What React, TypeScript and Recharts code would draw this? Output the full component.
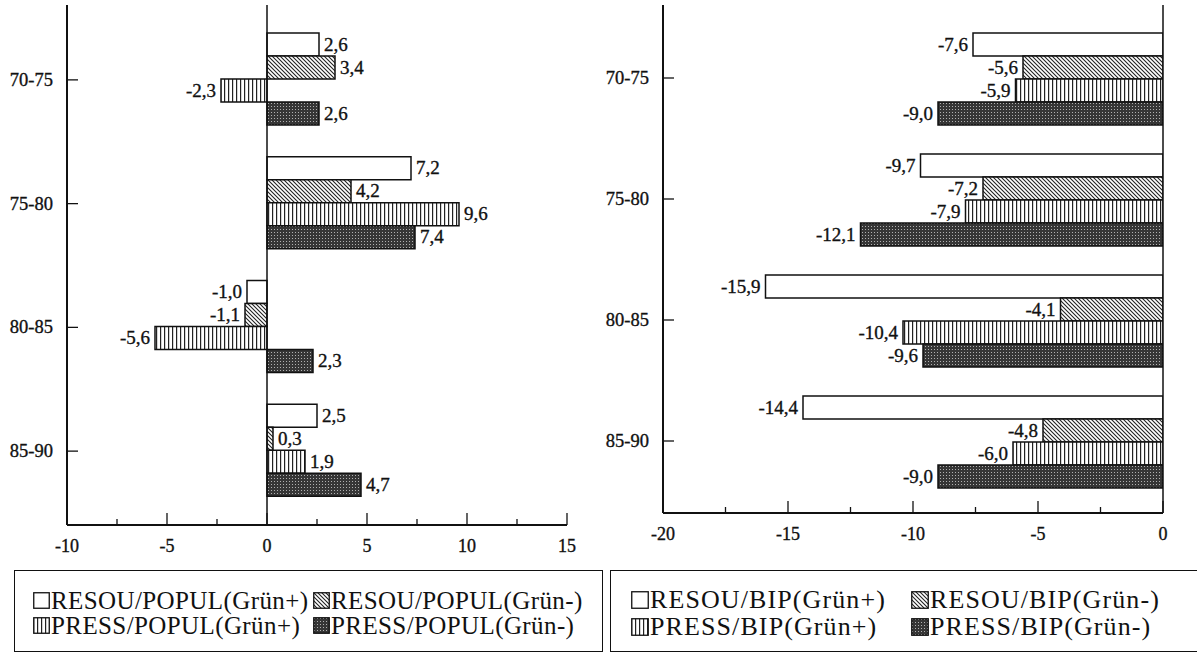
import React from "react";
import { BarChart, Bar, XAxis, YAxis, ReferenceLine, LabelList } from "recharts";

// periods on the category axis
const periods = ["70-75", "75-80", "80-85", "85-90"];

// left panel: change per population
const resouPopulPlus = [2.6, 7.2, -1.0, 2.5];
const resouPopulMinus = [3.4, 4.2, -1.1, 0.3];
const pressPopulPlus = [-2.3, 9.6, -5.6, 1.9];
const pressPopulMinus = [2.6, 7.4, 2.3, 4.7];

// right panel: change per BIP
const resouBipPlus = [-7.6, -9.7, -15.9, -14.4];
const resouBipMinus = [-5.6, -7.2, -4.1, -4.8];
const pressBipPlus = [-5.9, -7.9, -10.4, -6.0];
const pressBipMinus = [-9.0, -12.1, -9.6, -9.0];

const populTicks = [-10, -7.5, -5, -2.5, 0, 2.5, 5, 7.5, 10, 12.5, 15];
const bipTicks = [-20, -17.5, -15, -12.5, -10, -7.5, -5, -2.5, 0];

const populNames = ["RESOU/POPUL(Grün+)", "RESOU/POPUL(Grün-)", "PRESS/POPUL(Grün+)", "PRESS/POPUL(Grün-)"];
const bipNames = ["RESOU/BIP(Grün+)", "RESOU/BIP(Grün-)", "PRESS/BIP(Grün+)", "PRESS/BIP(Grün-)"];

const fills = ["url(#pWhite)", "url(#pHatch)", "url(#pStripe)", "url(#pDark)"];
const keys = ["a", "b", "c", "d"];

const FONT = "'Liberation Serif', 'Times New Roman', serif";
const INK = "#111";

const populData = periods.map((p, i) => ({
  period: p,
  a: resouPopulPlus[i],
  b: resouPopulMinus[i],
  c: pressPopulPlus[i],
  d: pressPopulMinus[i],
}));

const bipData = periods.map((p, i) => ({
  period: p,
  a: resouBipPlus[i],
  b: resouBipMinus[i],
  c: pressBipPlus[i],
  d: pressBipMinus[i],
}));

const fmt = (v: number) => v.toFixed(1).replace(".", ",");

// scanned print looks a bit heavier than plain text
const textStyle = { stroke: INK, strokeWidth: 0.35 };

function Patterns() {
  return (
    <svg width={0} height={0} style={{ position: "absolute" }}>
      <defs>
        <pattern id="pWhite" width="4" height="4" patternUnits="userSpaceOnUse">
          <rect width="4" height="4" fill="#fff" />
        </pattern>
        <pattern id="pHatch" width="4" height="4" patternUnits="userSpaceOnUse">
          <rect width="4" height="4" fill="#fff" />
          <path d="M-1,-1 L5,5 M3,-1 L5,1 M-1,3 L1,5" stroke="#222" strokeWidth="1.1" />
        </pattern>
        <pattern id="pStripe" width="4" height="4" patternUnits="userSpaceOnUse">
          <rect width="4" height="4" fill="#fff" />
          <rect x="0" width="1.2" height="4" fill="#222" />
        </pattern>
        <pattern id="pDark" width="3" height="3" patternUnits="userSpaceOnUse">
          <rect width="3" height="3" fill="#363636" />
          <rect x="1" y="1" width="1" height="1" fill="#b0b0b0" />
        </pattern>
      </defs>
    </svg>
  );
}

const XTick = (props: any) => {
  const { x, y, payload } = props;
  const v = payload.value as number;
  const major = v % 5 === 0;
  return (
    <g>
      <line x1={x} x2={x} y1={y} y2={y - (major ? 12 : 6)} stroke={INK} strokeWidth={1.3} />
      {major && (
        <text x={x} y={y + 27} textAnchor="middle" fontFamily={FONT} fontSize={18} fill={INK} style={textStyle}>
          {v}
        </text>
      )}
    </g>
  );
};

const YTick = (props: any) => {
  const { x, y, payload } = props;
  return (
    <g>
      <line x1={x} x2={x + 11} y1={y} y2={y} stroke={INK} strokeWidth={1.3} />
      <text x={x - 14} y={y + 6} textAnchor="end" fontFamily={FONT} fontSize={18.5} fill={INK} style={textStyle}>
        {payload.value}
      </text>
    </g>
  );
};

const ValueLabel = (props: any) => {
  const { x, y, width, height, value } = props;
  const v = Number(value);
  const left = Math.min(x, x + width);
  const right = Math.max(x, x + width);
  const neg = v < 0;
  return (
    <text
      x={neg ? left - 5 : right + 5}
      y={y + height / 2 + 6}
      textAnchor={neg ? "end" : "start"}
      fontFamily={FONT}
      fontSize={19}
      fill={INK}
      style={textStyle}
    >
      {fmt(v)}
    </text>
  );
};

function Panel({ data, domain, ticks, width, height, margin, pad, gap, xAxisHeight }: any) {
  return (
    <BarChart
      width={width}
      height={height}
      data={data}
      layout="vertical"
      margin={margin}
      barCategoryGap={gap}
      barGap={0}
    >
      <XAxis
        type="number"
        domain={domain}
        ticks={ticks}
        interval={0}
        allowDataOverflow
        height={xAxisHeight}
        tickSize={0}
        tickMargin={0}
        tick={<XTick />}
        axisLine={{ stroke: INK, strokeWidth: 2 }}
      />
      <XAxis
        xAxisId="top"
        orientation="top"
        type="number"
        domain={domain}
        height={0}
        tick={false}
        tickLine={false}
        axisLine={{ stroke: INK, strokeWidth: 1.5 }}
      />
      <YAxis
        type="category"
        dataKey="period"
        width={60}
        padding={pad}
        tickSize={0}
        tickMargin={0}
        tick={<YTick />}
        axisLine={{ stroke: INK, strokeWidth: 2 }}
      />
      <YAxis
        yAxisId="right"
        orientation="right"
        type="category"
        dataKey="period"
        width={0}
        tick={false}
        tickLine={false}
        axisLine={{ stroke: INK, strokeWidth: 1.5 }}
      />
      <ReferenceLine x={0} stroke={INK} strokeWidth={1.5} />
      {keys.map((k, i) => (
        <Bar key={k} dataKey={k} fill={fills[i]} stroke={INK} strokeWidth={1.5} isAnimationActive={false}>
          <LabelList dataKey={k} content={<ValueLabel />} />
        </Bar>
      ))}
    </BarChart>
  );
}

function Swatch({ fill, size }: { fill: string; size: number }) {
  return (
    <svg width={size} height={size} style={{ flex: "none", marginRight: 1 }}>
      <rect x={0.75} y={0.75} width={size - 1.5} height={size - 1.5} fill={fill} stroke={INK} strokeWidth={1.3} />
    </svg>
  );
}

function LegendBox({ names, left, width, fontSize, rowGap, padLeft, padTop, colWidth, swatch, spacing }: any) {
  return (
    <div
      style={{
        position: "absolute",
        left,
        top: 570,
        width,
        height: 82,
        border: `1.5px solid ${INK}`,
        boxSizing: "border-box",
        fontFamily: FONT,
        fontSize,
        color: INK,
        background: "#fff",
        letterSpacing: spacing,
      }}
    >
      <div
        style={{
          position: "absolute",
          left: padLeft,
          top: padTop,
          display: "grid",
          gridTemplateColumns: `${colWidth}px auto`,
          lineHeight: `${fontSize}px`,
          rowGap,
        }}
      >
        {names.map((n: string, i: number) => (
          <div key={n} style={{ display: "flex", alignItems: "center", whiteSpace: "nowrap" }}>
            <Swatch fill={fills[i]} size={swatch} />
            <span>{n}</span>
          </div>
        ))}
      </div>
    </div>
  );
}

export default function App() {
  return (
    <div style={{ position: "absolute", left: 0, top: 0, width: 1197, height: 654, background: "#fff", overflow: "hidden" }}>
      <Patterns />
      <div style={{ position: "absolute", left: 0, top: 0 }}>
        <Panel
          data={populData}
          domain={[-10, 15]}
          ticks={populTicks}
          width={600}
          height={570}
          margin={{ top: 5, right: 33, bottom: 5, left: 7 }}
          pad={{ top: 13, bottom: 12 }}
          gap={15}
          xAxisHeight={40}
        />
      </div>
      <div style={{ position: "absolute", left: 600, top: 0 }}>
        <Panel
          data={bipData}
          domain={[-20, 0]}
          ticks={bipTicks}
          width={597}
          height={560}
          margin={{ top: 5, right: 34, bottom: 5, left: 3 }}
          pad={{ top: 12.5, bottom: 11.5 }}
          gap={15.5}
          xAxisHeight={42}
        />
      </div>
      <LegendBox
        names={populNames}
        left={14}
        width={589}
        fontSize={25}
        rowGap={0}
        padLeft={18}
        padTop={17}
        colWidth={280}
        swatch={17}
        spacing={0.4}
      />
      <LegendBox
        names={bipNames}
        left={610}
        width={600}
        fontSize={26}
        rowGap={1}
        padLeft={20}
        padTop={16}
        colWidth={280}
        swatch={18}
        spacing={1.1}
      />
    </div>
  );
}
